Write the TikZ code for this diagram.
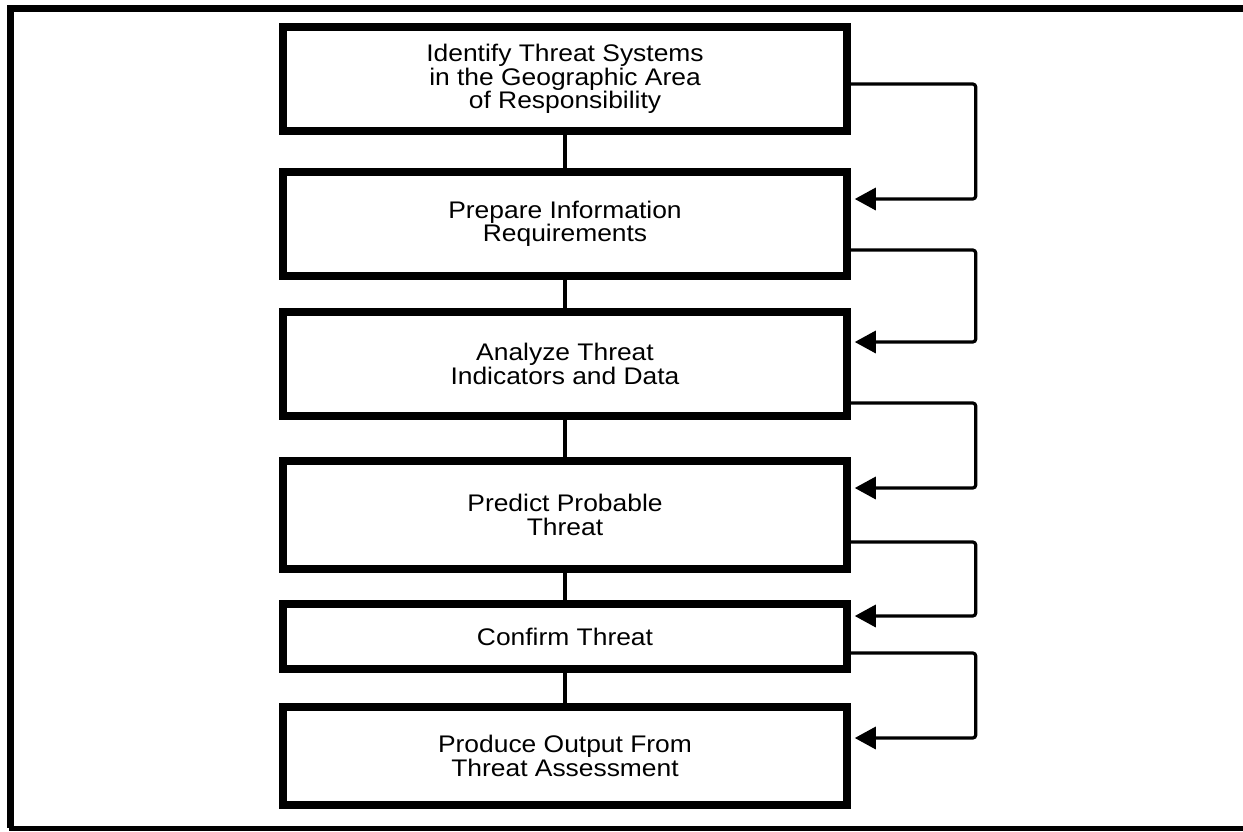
\documentclass[tikz,border=0pt]{standalone}
\usepackage{fontspec}
\setmainfont{Liberation Sans}[FakeStretch=1.1]
\usetikzlibrary{arrows.meta}
\begin{document}
\begin{tikzpicture}[x=0.5pt,y=-0.5pt,
  stepbox/.style={draw,line width=4pt,minimum width=281.75pt,inner sep=0pt,
    align=center,font=\fontsize{12pt}{11.7pt}\selectfont},
  link/.style={line width=1.8pt},
  loopline/.style={line width=1.6pt,rounded corners=1.5pt,
    -{Triangle[length=10.5pt,width=11pt]}}
]
\useasboundingbox (0,0) rectangle (1243,831);
% frame (right side is cut off in the reference)
\draw[line width=3.5pt] (1243,8.5) -- (10.5,8.5) -- (10.5,828);
\draw[line width=2.8pt] (8.75,828.5) -- (1243,828.5);

\node[stepbox,minimum height=52pt]    (b1) at (565,79)    {Identify Threat Systems\\in the Geographic Area\\of Responsibility};
\node[stepbox,minimum height=52.25pt] (b2) at (565,224)   {Prepare Information\\Requirements};
\node[stepbox,minimum height=52.25pt] (b3) at (565,364)   {Analyze Threat\\Indicators and Data};
\node[stepbox,minimum height=53.75pt] (b4) at (565,515)   {Predict Probable\\Threat};
\node[stepbox,minimum height=32.5pt]  (b5) at (565,636.5) {Confirm Threat};
\node[stepbox,minimum height=49.25pt] (b6) at (565,756)   {Produce Output From\\Threat Assessment};

\foreach \a/\b in {b1/b2,b2/b3,b3/b4,b4/b5,b5/b6}
  \draw[link] (\a) -- (\b);

\draw[loopline] ([yshift=-2.5pt]b1.east)  -- ++(125,0) |- ([yshift=12.5pt,xshift=2pt]b2.east);
\draw[loopline] ([yshift=-13pt]b2.east)   -- ++(125,0) |- ([yshift=11pt,xshift=2pt]b3.east);
\draw[loopline] ([yshift=-19.5pt]b3.east) -- ++(125,0) |- ([yshift=13.5pt,xshift=2pt]b4.east);
\draw[loopline] ([yshift=-13.5pt]b4.east) -- ++(125,0) |- ([yshift=10.25pt,xshift=2pt]b5.east);
\draw[loopline] ([yshift=-8.25pt]b5.east) -- ++(125,0) |- ([yshift=9pt,xshift=2pt]b6.east);
\end{tikzpicture}
\end{document}
